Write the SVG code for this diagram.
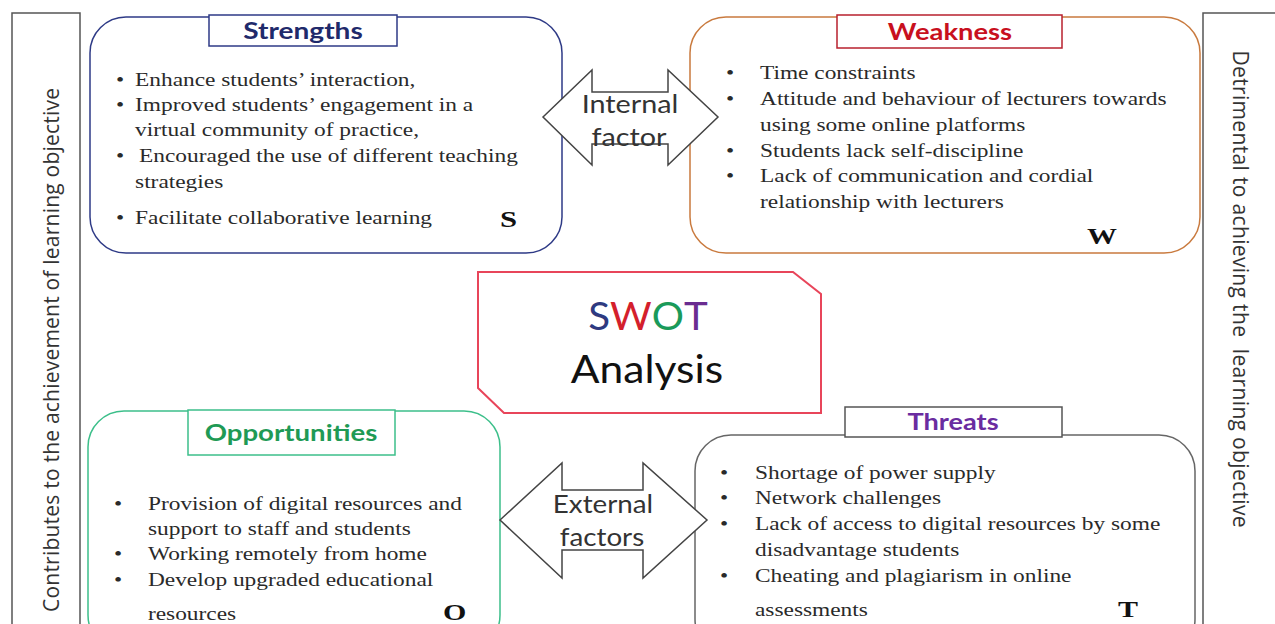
<svg xmlns="http://www.w3.org/2000/svg" width="1275" height="624" viewBox="0 0 1275 624">
<style>
.frame{fill:#fff;stroke:#555;stroke-width:1.5}
.side{font-family:"Open Sans","Lato",sans-serif;font-size:21px;fill:#333}
.body{font-family:"Liberation Serif","Times New Roman",serif;font-size:19px;fill:#2a2a2a}
.title{font-family:"Lato","Open Sans",sans-serif;font-weight:bold;font-size:23px;text-anchor:middle}
.letter{font-family:"Liberation Serif",serif;font-weight:bold;font-size:24px;fill:#111}
.arrow{fill:#fff;stroke:#444;stroke-width:1.5;stroke-linejoin:miter}
.atext{font-family:"Lato","Open Sans",sans-serif;font-size:25px;fill:#333;text-anchor:middle}
</style>
<rect width="1275" height="624" fill="#fff"/>

<g id="left-panel">
<rect class="frame" x="12" y="13" width="68" height="620"/>
<text class="side" transform="translate(59,350) rotate(-90)" text-anchor="middle" textLength="524">Contributes to the achievement of learning objective</text>
</g>

<g id="right-panel">
<rect class="frame" x="1203" y="13" width="80" height="620"/>
<text class="side" transform="translate(1233,289) rotate(90)" text-anchor="middle" textLength="477" xml:space="preserve">Detrimental to achieving the  learning objective</text>
</g>

<g id="strengths">
<rect x="90" y="17" width="472" height="236" rx="36" fill="#fff" stroke="#2e3a86" stroke-width="1.5"/>
<rect x="209" y="15" width="188" height="31" fill="#fff" stroke="#2e3a86" stroke-width="1.5"/>
<text class="title" x="303" y="39" fill="#1f2a6b" transform="translate(303,0) scale(1.22,1) translate(-303,0)">Strengths</text>
<g transform="scale(1.23,1)">
<text class="body" x="94.3" y="86">•</text><text class="body" x="109.8" y="86">Enhance students’ interaction,</text>
<text class="body" x="94.3" y="111">•</text><text class="body" x="109.8" y="111">Improved students’ engagement in a</text>
<text class="body" x="109.8" y="136">virtual community of practice,</text>
<text class="body" x="94.3" y="162">•</text><text class="body" x="113" y="162">Encouraged the use of different teaching</text>
<text class="body" x="109.8" y="188">strategies</text>
<text class="body" x="94.3" y="224">•</text><text class="body" x="109.8" y="224">Facilitate collaborative learning</text>
</g>
<text class="letter" x="500" y="227" transform="translate(500,0) scale(1.28,1) translate(-500,0)">S</text>
</g>

<g id="weakness">
<rect x="690" y="17" width="510" height="236" rx="36" fill="#fff" stroke="#c97a3e" stroke-width="1.5"/>
<rect x="837" y="15" width="225" height="33" fill="#fff" stroke="#b8202e" stroke-width="1.5"/>
<text class="title" x="950" y="40" fill="#c8101e" transform="translate(950,0) scale(1.19,1) translate(-950,0)">Weakness</text>
<g transform="scale(1.23,1)">
<text class="body" x="590.2" y="79">•</text><text class="body" x="617.9" y="79">Time constraints</text>
<text class="body" x="590.2" y="105">•</text><text class="body" x="617.9" y="105">Attitude and behaviour of lecturers towards</text>
<text class="body" x="617.9" y="131">using some online platforms</text>
<text class="body" x="590.2" y="157">•</text><text class="body" x="617.9" y="157">Students lack self-discipline</text>
<text class="body" x="590.2" y="182">•</text><text class="body" x="617.9" y="182">Lack of communication and cordial</text>
<text class="body" x="617.9" y="208">relationship with lecturers</text>
</g>
<text class="letter" x="1087" y="244" transform="translate(1087,0) scale(1.25,1) translate(-1087,0)">W</text>
</g>

<g id="swot-center">
<polygon points="478,272 793,272 821,294 821,413 504,413 478,388" fill="#fff" stroke="#e8455a" stroke-width="2"/>
<text x="648" y="330" text-anchor="middle" font-family="Lato,'Open Sans',sans-serif" font-size="38" transform="translate(648,0) scale(1.06,1) translate(-648,0)"><tspan fill="#2e3a80">S</tspan><tspan fill="#d41f2c">W</tspan><tspan fill="#1a9a5a">O</tspan><tspan fill="#6a2c90">T</tspan></text>
<text x="647" y="383" text-anchor="middle" font-family="Lato,'Open Sans',sans-serif" font-size="38" fill="#111" transform="translate(647,0) scale(1.12,1) translate(-647,0)">Analysis</text>
</g>

<g id="opportunities">
<rect x="88" y="411" width="412" height="240" rx="36" fill="#fff" stroke="#3cbf8a" stroke-width="1.5"/>
<rect x="188" y="410" width="207" height="45" fill="#fff" stroke="#3cbf8a" stroke-width="1.5"/>
<text class="title" x="291" y="441" fill="#1f9a55" transform="translate(291,0) scale(1.2,1) translate(-291,0)">Opportunities</text>
<g transform="scale(1.23,1)">
<text class="body" x="92.7" y="510">•</text><text class="body" x="120.3" y="510">Provision of digital resources and</text>
<text class="body" x="120.3" y="535">support to staff and students</text>
<text class="body" x="92.7" y="560">•</text><text class="body" x="120.3" y="560">Working remotely from home</text>
<text class="body" x="92.7" y="586">•</text><text class="body" x="120.3" y="586">Develop upgraded educational</text>
<text class="body" x="120.3" y="620">resources</text>
</g>
<text class="letter" x="443" y="620" transform="translate(443,0) scale(1.25,1) translate(-443,0)">O</text>
</g>

<g id="threats">
<rect x="695" y="435" width="500" height="220" rx="36" fill="#fff" stroke="#666" stroke-width="1.5"/>
<rect x="845" y="407" width="217" height="30" fill="#fff" stroke="#555" stroke-width="1.5"/>
<text class="title" x="953" y="430" fill="#6a2ca0" transform="translate(953,0) scale(1.18,1) translate(-953,0)">Threats</text>
<g transform="scale(1.23,1)">
<text class="body" x="585.4" y="479">•</text><text class="body" x="613.8" y="479">Shortage of power supply</text>
<text class="body" x="585.4" y="504">•</text><text class="body" x="613.8" y="504">Network challenges</text>
<text class="body" x="585.4" y="530">•</text><text class="body" x="613.8" y="530">Lack of access to digital resources by some</text>
<text class="body" x="613.8" y="556">disadvantage students</text>
<text class="body" x="585.4" y="582">•</text><text class="body" x="613.8" y="582">Cheating and plagiarism in online</text>
<text class="body" x="613.8" y="616">assessments</text>
</g>
<text class="letter" x="1118" y="617" transform="translate(1118,0) scale(1.25,1) translate(-1118,0)">T</text>
</g>

<g id="connectors">
<polygon class="arrow" points="543,117 592,70 592,92 668,92 668,70 718,117 668,165 668,144 592,144 592,165"/>
<text class="atext" x="630" y="113" transform="translate(630,0) scale(1.15,1) translate(-630,0)">Internal</text>
<text class="atext" x="629" y="146" transform="translate(629,0) scale(1.15,1) translate(-629,0)">factor</text>
<polygon class="arrow" points="500,520 562,463 562,490 643,490 643,463 707,520 643,578 643,550 562,550 562,578"/>
<text class="atext" x="603" y="513" transform="translate(603,0) scale(1.11,1) translate(-603,0)">External</text>
<text class="atext" x="602" y="546" transform="translate(602,0) scale(1.11,1) translate(-602,0)">factors</text>
</g>
</svg>
